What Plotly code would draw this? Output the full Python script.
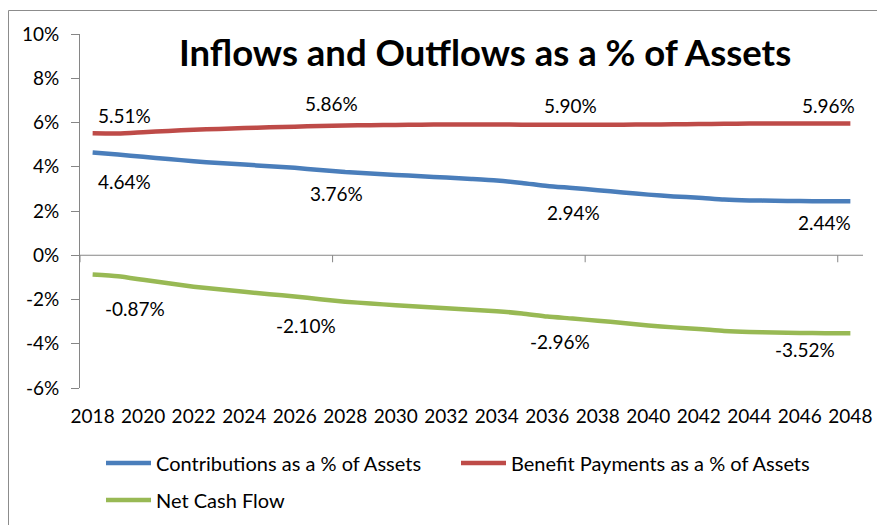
import plotly.graph_objects as go

years = list(range(2018, 2049))
tick_years = list(range(2018, 2049, 2))

contributions = [4.64, 4.55, 4.45, 4.35, 4.25, 4.17, 4.10, 4.02, 3.95, 3.85,
                 3.76, 3.70, 3.63, 3.57, 3.51, 3.45, 3.38, 3.27, 3.13, 3.04,
                 2.94, 2.84, 2.74, 2.66, 2.60, 2.52, 2.48, 2.46, 2.45, 2.44, 2.44]
benefits = [5.51, 5.50, 5.56, 5.62, 5.67, 5.71, 5.75, 5.78, 5.81, 5.84,
            5.86, 5.88, 5.89, 5.90, 5.91, 5.91, 5.91, 5.90, 5.90, 5.90,
            5.90, 5.90, 5.91, 5.92, 5.93, 5.94, 5.95, 5.95, 5.96, 5.96, 5.96]
net_cash = [-0.87, -0.95, -1.11, -1.27, -1.42, -1.54, -1.65, -1.76, -1.86, -1.99,
            -2.10, -2.18, -2.26, -2.33, -2.40, -2.46, -2.53, -2.63, -2.77, -2.86,
            -2.96, -3.06, -3.17, -3.26, -3.33, -3.42, -3.47, -3.49, -3.51, -3.52, -3.52]

y_ticks = [-6, -4, -2, 0, 2, 4, 6, 8, 10]
y_ticktext = ["-6%", "-4%", "-2%", "0%", "2%", "4%", "6%", "8%", "10%"]

label_idx = [0, 10, 20, 30]

FONT = "Lato"
BLUE = "#4A7EBB"
RED = "#BE4B48"
GREEN = "#98B954"
AXIS = "#868686"

OFF = 8  # page body margin
W, H = 885 - OFF, 525 - OFF
# plot-area frame in screen pixels
L, R, T, B = 80, 863, 34, 388
def px(xp):
    return (xp - L) / (R - L)
def py(yp):
    return (B - yp) / (B - T)

fig = go.Figure()
series = [
    ("Contributions as a % of Assets", contributions, BLUE, "legend"),
    ("Benefit Payments as a % of Assets", benefits, RED, "legend2"),
    ("Net Cash Flow", net_cash, GREEN, "legend3"),
]
for name, vals, col, lg in series:
    fig.add_trace(go.Scatter(x=years, y=vals, mode="lines", name=name,
                             line=dict(color=col, width=4.5, shape="spline", smoothing=0.6),
                             legend=lg))

# label offsets (style) per series: (dx years, dy %)
offsets = {
    "c": [(1.28, -1.30), (-0.33, -0.95), (-0.95, -0.99), (-1.01, -0.98)],
    "b": [(1.28, 0.81), (-0.53, 1.00), (-1.10, 0.87), (-0.86, 0.81)],
    "n": [(1.68, -1.52), (-1.55, -1.06), (-1.50, -0.92), (-1.80, -0.72)],
}
annotations = []
for key, vals in (("c", contributions), ("b", benefits), ("n", net_cash)):
    for (dx, dy), i in zip(offsets[key], label_idx):
        annotations.append(dict(x=years[i] + dx, y=vals[i] + dy, xref="x", yref="y",
                                text=f"{vals[i]:.2f}%", showarrow=False,
                                font=dict(family=FONT, size=19, color="#000000")))

annotations.append(dict(text="<b>Inflows and Outflows as a % of Assets</b>",
                        xref="paper", yref="paper", x=px(485), y=py(52),
                        xanchor="center", yanchor="middle", showarrow=False,
                        font=dict(family=FONT, size=36.5, color="#000000")))

shapes = [dict(type="line", xref="x", yref="y", x0=2017.5, x1=2048.5, y0=0, y1=0,
               line=dict(color=AXIS, width=1))]
for k in range(4):
    shapes.append(dict(type="line", xref="x", yref="y", ysizemode="pixel", yanchor=0,
                       x0=2017.5 + 10 * k, x1=2017.5 + 10 * k, y0=0, y1=-7,
                       line=dict(color=AXIS, width=1)))
shapes.append(dict(type="rect", xref="paper", yref="paper",
                   x0=px(8.5), x1=px(900), y0=py(540), y1=py(10.5),
                   line=dict(color="#8C8C8C", width=1), fillcolor="rgba(0,0,0,0)", layer="below"))

legend_font = dict(family=FONT, size=20, color="#000000")
def leg(xp, yp):
    return dict(orientation="h", x=px(xp), y=py(yp), xanchor="left", yanchor="middle",
                itemwidth=45, font=legend_font, bgcolor="rgba(0,0,0,0)")

fig.update_layout(
    width=W, height=H,
    margin=dict(l=L - OFF, r=W - (R - OFF), t=T - OFF, b=H - (B - OFF), autoexpand=False),
    paper_bgcolor="white", plot_bgcolor="white",
    font=dict(family=FONT, size=19, color="#000000"),
    showlegend=True,
    annotations=annotations,
    shapes=shapes,
    xaxis=dict(range=[2017.5, 2048.5], tickvals=tick_years, ticktext=[str(y) for y in tick_years],
               showgrid=False, zeroline=False, showline=False, ticks="", automargin=False,
               ticklabelstandoff=15,
               tickfont=dict(family=FONT, size=19, color="#000000")),
    yaxis=dict(range=[-6, 10], tickvals=y_ticks, ticktext=y_ticktext, automargin=False,
               showgrid=False, zeroline=False, showline=True, linecolor=AXIS, linewidth=1,
               ticks="outside", ticklen=8, tickcolor=AXIS, ticklabelstandoff=8,
               tickfont=dict(family=FONT, size=19, color="#000000")),
    legend=leg(101, 463),
    legend2=leg(456, 463),
    legend3=leg(101, 500),
)

fig.write_html("out.html")
